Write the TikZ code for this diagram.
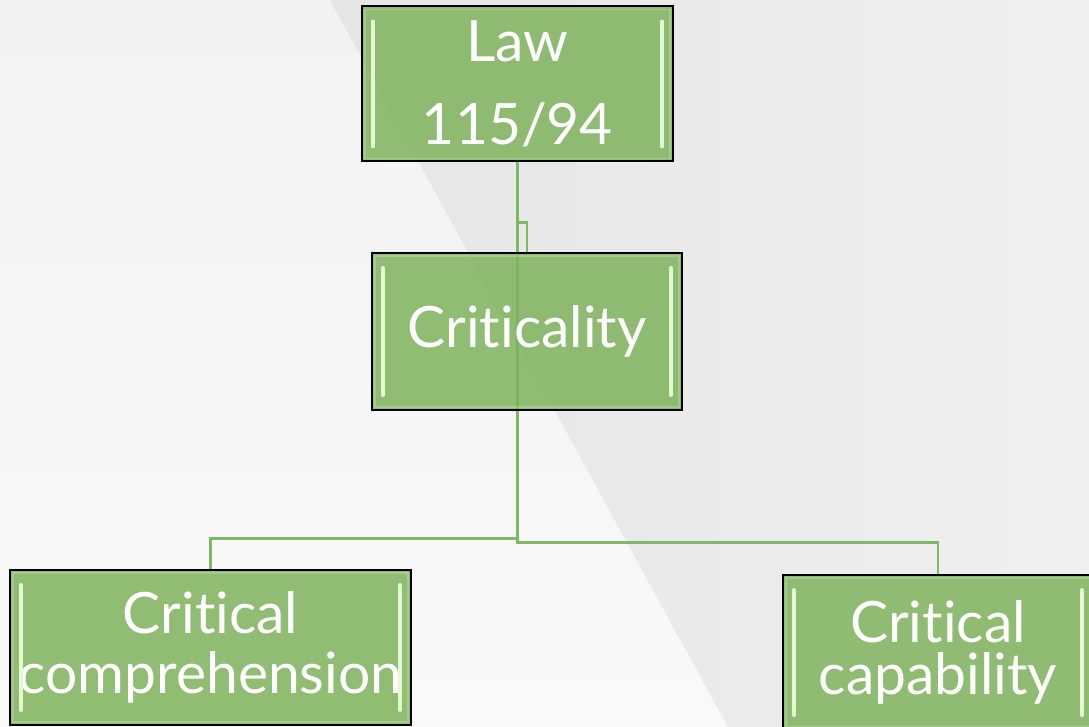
\documentclass[tikz,border=0pt]{standalone}
\usepackage{fontspec}
\setmainfont{Lato}[Ligatures=NoCommon]
\usetikzlibrary{calc}
\definecolor{boxgreen}{RGB}{128,180,94}
\definecolor{conngreen}{RGB}{125,185,100}
\definecolor{bevelcol}{RGB}{230,248,210}
\definecolor{bgtop}{RGB}{242,242,242}
\definecolor{bgbot}{RGB}{249,249,249}
\definecolor{bgright}{RGB}{240,240,240}
\definecolor{banddark}{RGB}{220,220,220}
\definecolor{bandmid}{RGB}{229,229,229}
\pgfdeclarehorizontalshading{bandshade}{100bp}{color(0bp)=(banddark); color(25bp)=(banddark); color(42bp)=(bandmid); color(62bp)=(bgright); color(100bp)=(bgright)}
\pgfdeclarelayer{bg}
\pgfdeclarelayer{lines}
\pgfsetlayers{bg,lines,main}
\tikzset{
  box/.style={draw=black, line width=2pt, fill=boxgreen, fill opacity=0.86,
    text opacity=1, text=white, inner sep=0pt, align=center},
  conn/.style={draw=conngreen, line width=2.6pt},
  bevelline/.style={draw=bevelcol, line width=4pt, line cap=round},
  innerhl/.style={draw=white, draw opacity=0.2, line width=1.2pt}
}
\newcommand\bevelbox[1]{%
  \draw[bevelline] ([xshift=12pt,yshift=-16pt]#1.north west) -- ([xshift=12pt,yshift=16pt]#1.south west);
  \draw[bevelline] ([xshift=-12pt,yshift=-16pt]#1.north east) -- ([xshift=-12pt,yshift=16pt]#1.south east);
  \draw[innerhl] ([xshift=4pt,yshift=-4pt]#1.north west) rectangle ([xshift=-4pt,yshift=4pt]#1.south east);
}
\begin{document}
\begin{tikzpicture}[x=1pt,y=-1pt]
\useasboundingbox (0,0) rectangle (1089,727);
\clip (0,0) rectangle (1089,727);
% background
\begin{pgfonlayer}{bg}
  \shade[top color=bgtop, bottom color=bgbot] (0,0) rectangle (1089,727);
  \begin{scope}
    \clip (330,0) -- (728,727) -- (1089,727) -- (1089,0) -- cycle;
    \fill[bgright] (0,0) rectangle (1089,727);
    \begin{scope}[shift={(330,0)}, rotate=28.7]
      \shade[shading=bandshade] (0,-1400) rectangle (700,1400);
    \end{scope}
  \end{scope}
\end{pgfonlayer}
% boxes
\node[box, minimum width=311pt, minimum height=155pt, font=\fontsize{57}{83}\selectfont]
  (law) at (517.5,84) {Law\\115/94};
\node[box, minimum width=310pt, minimum height=157pt, font=\fontsize{57}{68}\selectfont]
  (crit) at (527,331.5) {Criticality};
\node[box, minimum width=401pt, minimum height=155pt, font=\fontsize{57}{60}\selectfont]
  (comp) at (210.5,647.5) {Critical\\comprehension};
\node[box, minimum width=310pt, minimum height=155pt, font=\fontsize{57}{52}\selectfont]
  (cap) at (938,652.5) {Critical\\capability};
\bevelbox{law}
\bevelbox{crit}
\bevelbox{comp}
\bevelbox{cap}
% connectors
\begin{pgfonlayer}{lines}
  \draw[conn] (law.south) -- ++(0,60) -| (crit.north);
  \draw[conn] (law.south) -- ++(0,376) -| (comp.north);
  \draw[conn] (law.south) -- ++(0,380) -| (cap.north);
\end{pgfonlayer}
\end{tikzpicture}
\end{document}
